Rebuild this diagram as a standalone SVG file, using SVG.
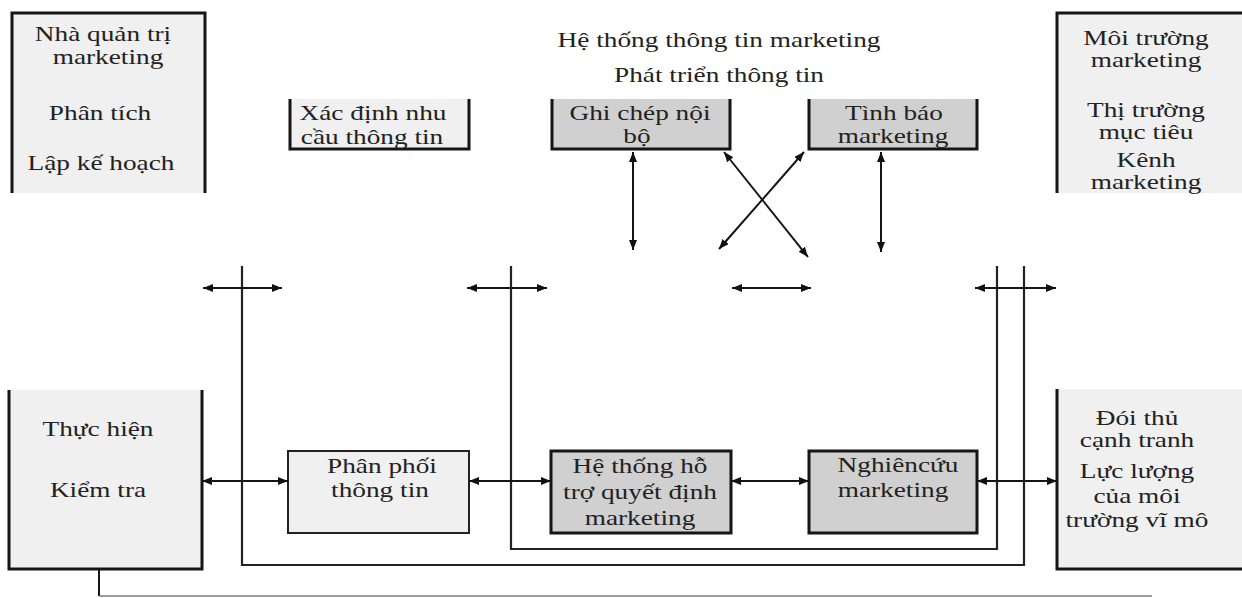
<svg xmlns="http://www.w3.org/2000/svg" width="1242" height="598" viewBox="0 0 1242 598">
<style>
.t{font-family:"Liberation Serif","Times New Roman",serif;font-size:21px;fill:#222;text-anchor:middle}
.light{fill:#f0f0f0}
.gray{fill:#d0d0d0}
.b{fill:none;stroke:#151515;stroke-width:3}
.ln{fill:none;stroke:#151515;stroke-width:2}
.loop{fill:none;stroke:#222;stroke-width:2.2}
.thin{fill:none;stroke:#7a7a7a;stroke-width:1.6}
</style>
<defs>
<marker id="ah" viewBox="0 0 10 8" refX="10" refY="4" markerWidth="10" markerHeight="8" markerUnits="userSpaceOnUse" orient="auto-start-reverse">
<path d="M0,0 L10,4 L0,8 z" fill="#111"/>
</marker>
</defs>
<rect width="1242" height="598" fill="#fff"/>

<g id="title">
<text class="t" transform="translate(719,47) scale(1.3,1)">Hệ thống thông tin marketing</text>
<text class="t" transform="translate(719,82) scale(1.3,1)">Phát triển thông tin</text>
</g>

<g id="manager">
<rect class="light" x="12" y="13" width="193" height="180"/>
<path class="b" d="M12,193 V13 H205 V193"/>
<text class="t" transform="translate(103,41) scale(1.3,1)">Nhà quản trị</text>
<text class="t" transform="translate(108,64) scale(1.3,1)">marketing</text>
<text class="t" transform="translate(100,120) scale(1.3,1)">Phân tích</text>
<text class="t" transform="translate(101,170) scale(1.3,1)">Lập kế hoạch</text>
</g>

<g id="environment">
<rect class="light" x="1057" y="13" width="185" height="180"/>
<path class="b" d="M1057,193 V13 H1242"/>
<text class="t" transform="translate(1146,45) scale(1.3,1)">Môi trường</text>
<text class="t" transform="translate(1146,67) scale(1.3,1)">marketing</text>
<text class="t" transform="translate(1146,117) scale(1.3,1)">Thị trường</text>
<text class="t" transform="translate(1146,139) scale(1.3,1)">mục tiêu</text>
<text class="t" transform="translate(1146,167) scale(1.3,1)">Kênh</text>
<text class="t" transform="translate(1146,189) scale(1.3,1)">marketing</text>
</g>

<g id="needs">
<rect class="light" x="290" y="99" width="179" height="50"/>
<path class="b" d="M290,99 V149 H469 V99"/>
<text class="t" transform="translate(373,120) scale(1.3,1)">Xác định nhu</text>
<text class="t" transform="translate(372,144) scale(1.3,1)">cầu thông tin</text>
</g>

<g id="internal">
<rect class="gray" x="552" y="99" width="178" height="50"/>
<path class="b" d="M552,99 V149 H730 V99"/>
<text class="t" transform="translate(640,120) scale(1.3,1)">Ghi chép nội</text>
<text class="t" transform="translate(637,143) scale(1.3,1)">bộ</text>
</g>

<g id="intelligence">
<rect class="gray" x="809" y="99" width="168" height="50"/>
<path class="b" d="M809,99 V149 H977 V99"/>
<text class="t" transform="translate(894,120) scale(1.3,1)">Tình báo</text>
<text class="t" transform="translate(893,143) scale(1.3,1)">marketing</text>
</g>

<g id="execution">
<rect class="light" x="9" y="390" width="193" height="179"/>
<path class="b" d="M9,390 V569 H202 V390"/>
<text class="t" transform="translate(98,436) scale(1.3,1)">Thực hiện</text>
<text class="t" transform="translate(98,497) scale(1.3,1)">Kiểm tra</text>
</g>

<g id="distribution">
<rect class="light" x="288" y="451" width="181" height="82" stroke="#222" stroke-width="2"/>
<text class="t" transform="translate(382,473) scale(1.3,1)">Phân phối</text>
<text class="t" transform="translate(380,497) scale(1.3,1)">thông tin</text>
</g>

<g id="dss">
<rect class="gray" x="551" y="451" width="180" height="82" stroke="#151515" stroke-width="3"/>
<text class="t" transform="translate(640,473) scale(1.3,1)">Hệ thống hỗ</text>
<text class="t" transform="translate(640,499) scale(1.3,1)">trợ quyết định</text>
<text class="t" transform="translate(640,525) scale(1.3,1)">marketing</text>
</g>

<g id="research">
<rect class="gray" x="809" y="451" width="168" height="82" stroke="#151515" stroke-width="3"/>
<text class="t" transform="translate(898,472) scale(1.3,1)">Nghiêncứu</text>
<text class="t" transform="translate(893,497) scale(1.3,1)">marketing</text>
</g>

<g id="competitors">
<rect class="light" x="1057" y="389" width="185" height="180"/>
<path class="b" d="M1057,389 V569 H1242"/>
<text class="t" transform="translate(1137,425) scale(1.3,1)">Đói thủ</text>
<text class="t" transform="translate(1137,447) scale(1.3,1)">cạnh tranh</text>
<text class="t" transform="translate(1137,478) scale(1.3,1)">Lực lượng</text>
<text class="t" transform="translate(1137,503) scale(1.3,1)">của môi</text>
<text class="t" transform="translate(1137,527) scale(1.3,1)">trường vĩ mô</text>
</g>

<g id="connectors">
<path class="loop" d="M242,266 V565 H1024 V266"/>
<path class="loop" d="M511,266 V549 H997 V266"/>
<path class="ln" d="M99,569 V596" stroke-width="2.5"/>
<path class="thin" d="M99,596 H1152"/>

<line class="ln" x1="203" y1="288" x2="282" y2="288" marker-start="url(#ah)" marker-end="url(#ah)"/>
<line class="ln" x1="467" y1="288" x2="547" y2="288" marker-start="url(#ah)" marker-end="url(#ah)"/>
<line class="ln" x1="732" y1="288" x2="811" y2="288" marker-start="url(#ah)" marker-end="url(#ah)"/>
<line class="ln" x1="975" y1="288" x2="1056" y2="288" marker-start="url(#ah)" marker-end="url(#ah)"/>

<line class="ln" x1="633" y1="152" x2="633" y2="250" marker-start="url(#ah)" marker-end="url(#ah)"/>
<line class="ln" x1="881" y1="152" x2="881" y2="252" marker-start="url(#ah)" marker-end="url(#ah)"/>
<line class="ln" x1="724" y1="152" x2="808" y2="257" marker-start="url(#ah)" marker-end="url(#ah)"/>
<line class="ln" x1="804" y1="152" x2="719" y2="249" marker-start="url(#ah)" marker-end="url(#ah)"/>

<line class="ln" x1="202" y1="481" x2="288" y2="481" marker-start="url(#ah)" marker-end="url(#ah)"/>
<line class="ln" x1="469" y1="481" x2="551" y2="481" marker-start="url(#ah)" marker-end="url(#ah)"/>
<line class="ln" x1="731" y1="481" x2="809" y2="481" marker-start="url(#ah)" marker-end="url(#ah)"/>
<line class="ln" x1="977" y1="481" x2="1057" y2="481" marker-start="url(#ah)" marker-end="url(#ah)"/>
</g>
</svg>
